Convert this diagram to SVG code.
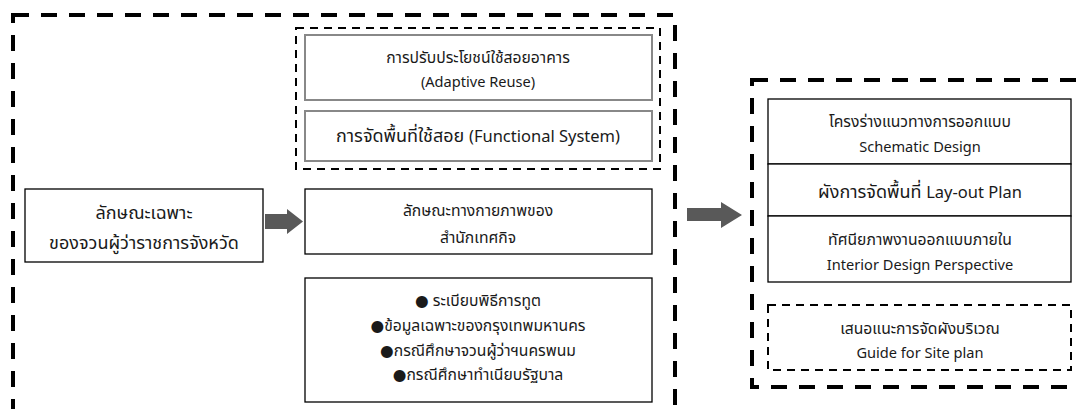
<svg xmlns="http://www.w3.org/2000/svg" width="1078" height="409" viewBox="0 0 1078 409">
<style>
text{font-family:"Noto Sans Thai","Noto Sans","DejaVu Sans",sans-serif;fill:#1a1a1a;text-anchor:middle;}
.s{font-size:15.7px}
.sl{font-size:14.6px}
.m{font-size:18px}
.ml{font-size:16.5px}
.big{stroke:#000;stroke-width:4;fill:none;stroke-dasharray:16 12}
.dsh{stroke:#000;stroke-width:2;fill:none;stroke-dasharray:8 6}
.box{fill:#fff;stroke:#000;stroke-width:1.3}
.gbox{fill:#fff;stroke:#888;stroke-width:2}
.arr{fill:#595959}
</style>
<g id="frame-left"><rect class="big" x="13" y="15" width="662" height="420"/></g>
<g id="frame-right"><rect class="big" x="752" y="80" width="340" height="307"/></g>
<g id="group-top"><rect class="dsh" x="296" y="28" width="364" height="141"/></g>
<g id="n-adaptive"><rect class="gbox" x="305" y="35" width="347" height="65"/>
<text class="s" x="478" y="63">การปรับประโยชน์ใช้สอยอาคาร</text>
<text class="sl" x="478" y="87">(Adaptive Reuse)</text></g>
<g id="n-functional"><rect class="gbox" x="305" y="111" width="347" height="50"/>
<text class="m" x="478" y="142">การจัดพื้นที่ใช้สอย <tspan class="ml">(Functional System)</tspan></text></g>
<g id="n-character"><rect class="box" x="25" y="189" width="238" height="73"/>
<text class="m" x="144" y="219">ลักษณะเฉพาะ</text>
<text class="m" x="144" y="249">ของจวนผู้ว่าราชการจังหวัด</text></g>
<g id="n-physical"><rect class="box" x="305" y="189" width="347" height="65"/>
<text class="s" x="478" y="216">ลักษณะทางกายภาพของ</text>
<text class="s" x="478" y="243">สำนักเทศกิจ</text></g>
<g id="n-data"><rect class="box" x="305" y="278" width="347" height="124"/>
<text class="s" x="478" y="306">● ระเบียบพิธีการทูต</text>
<text class="s" x="478" y="331">●ข้อมูลเฉพาะของกรุงเทพมหานคร</text>
<text class="s" x="478" y="356">●กรณีศึกษาจวนผู้ว่าฯนครพนม</text>
<text class="s" x="478" y="380">●กรณีศึกษาทำเนียบรัฐบาล</text></g>
<g id="n-schematic"><rect class="box" x="768" y="99" width="303" height="65"/>
<text class="s" x="920" y="127">โครงร่างแนวทางการออกแบบ</text>
<text class="sl" x="920" y="152">Schematic Design</text></g>
<g id="n-layout"><rect class="box" x="768" y="164" width="303" height="52"/>
<text class="m" x="920" y="198">ผังการจัดพื้นที่ <tspan class="ml">Lay-out Plan</tspan></text></g>
<g id="n-interior"><rect class="box" x="768" y="216" width="303" height="66"/>
<text class="s" x="920" y="245">ทัศนียภาพงานออกแบบภายใน</text>
<text class="sl" x="920" y="270">Interior Design Perspective</text></g>
<g id="n-site"><rect class="dsh" x="768" y="305" width="303" height="65"/>
<text class="s" x="920" y="334">เสนอแนะการจัดผังบริเวณ</text>
<text class="sl" x="920" y="358">Guide for Site plan</text></g>
<g id="connectors">
<polygon class="arr" points="265,214 287,214 287,209 303,221.5 287,234 287,229 265,229"/>
<polygon class="arr" points="687,208 721,208 721,202 742,215 721,228 721,221 687,221"/>
</g>
</svg>
